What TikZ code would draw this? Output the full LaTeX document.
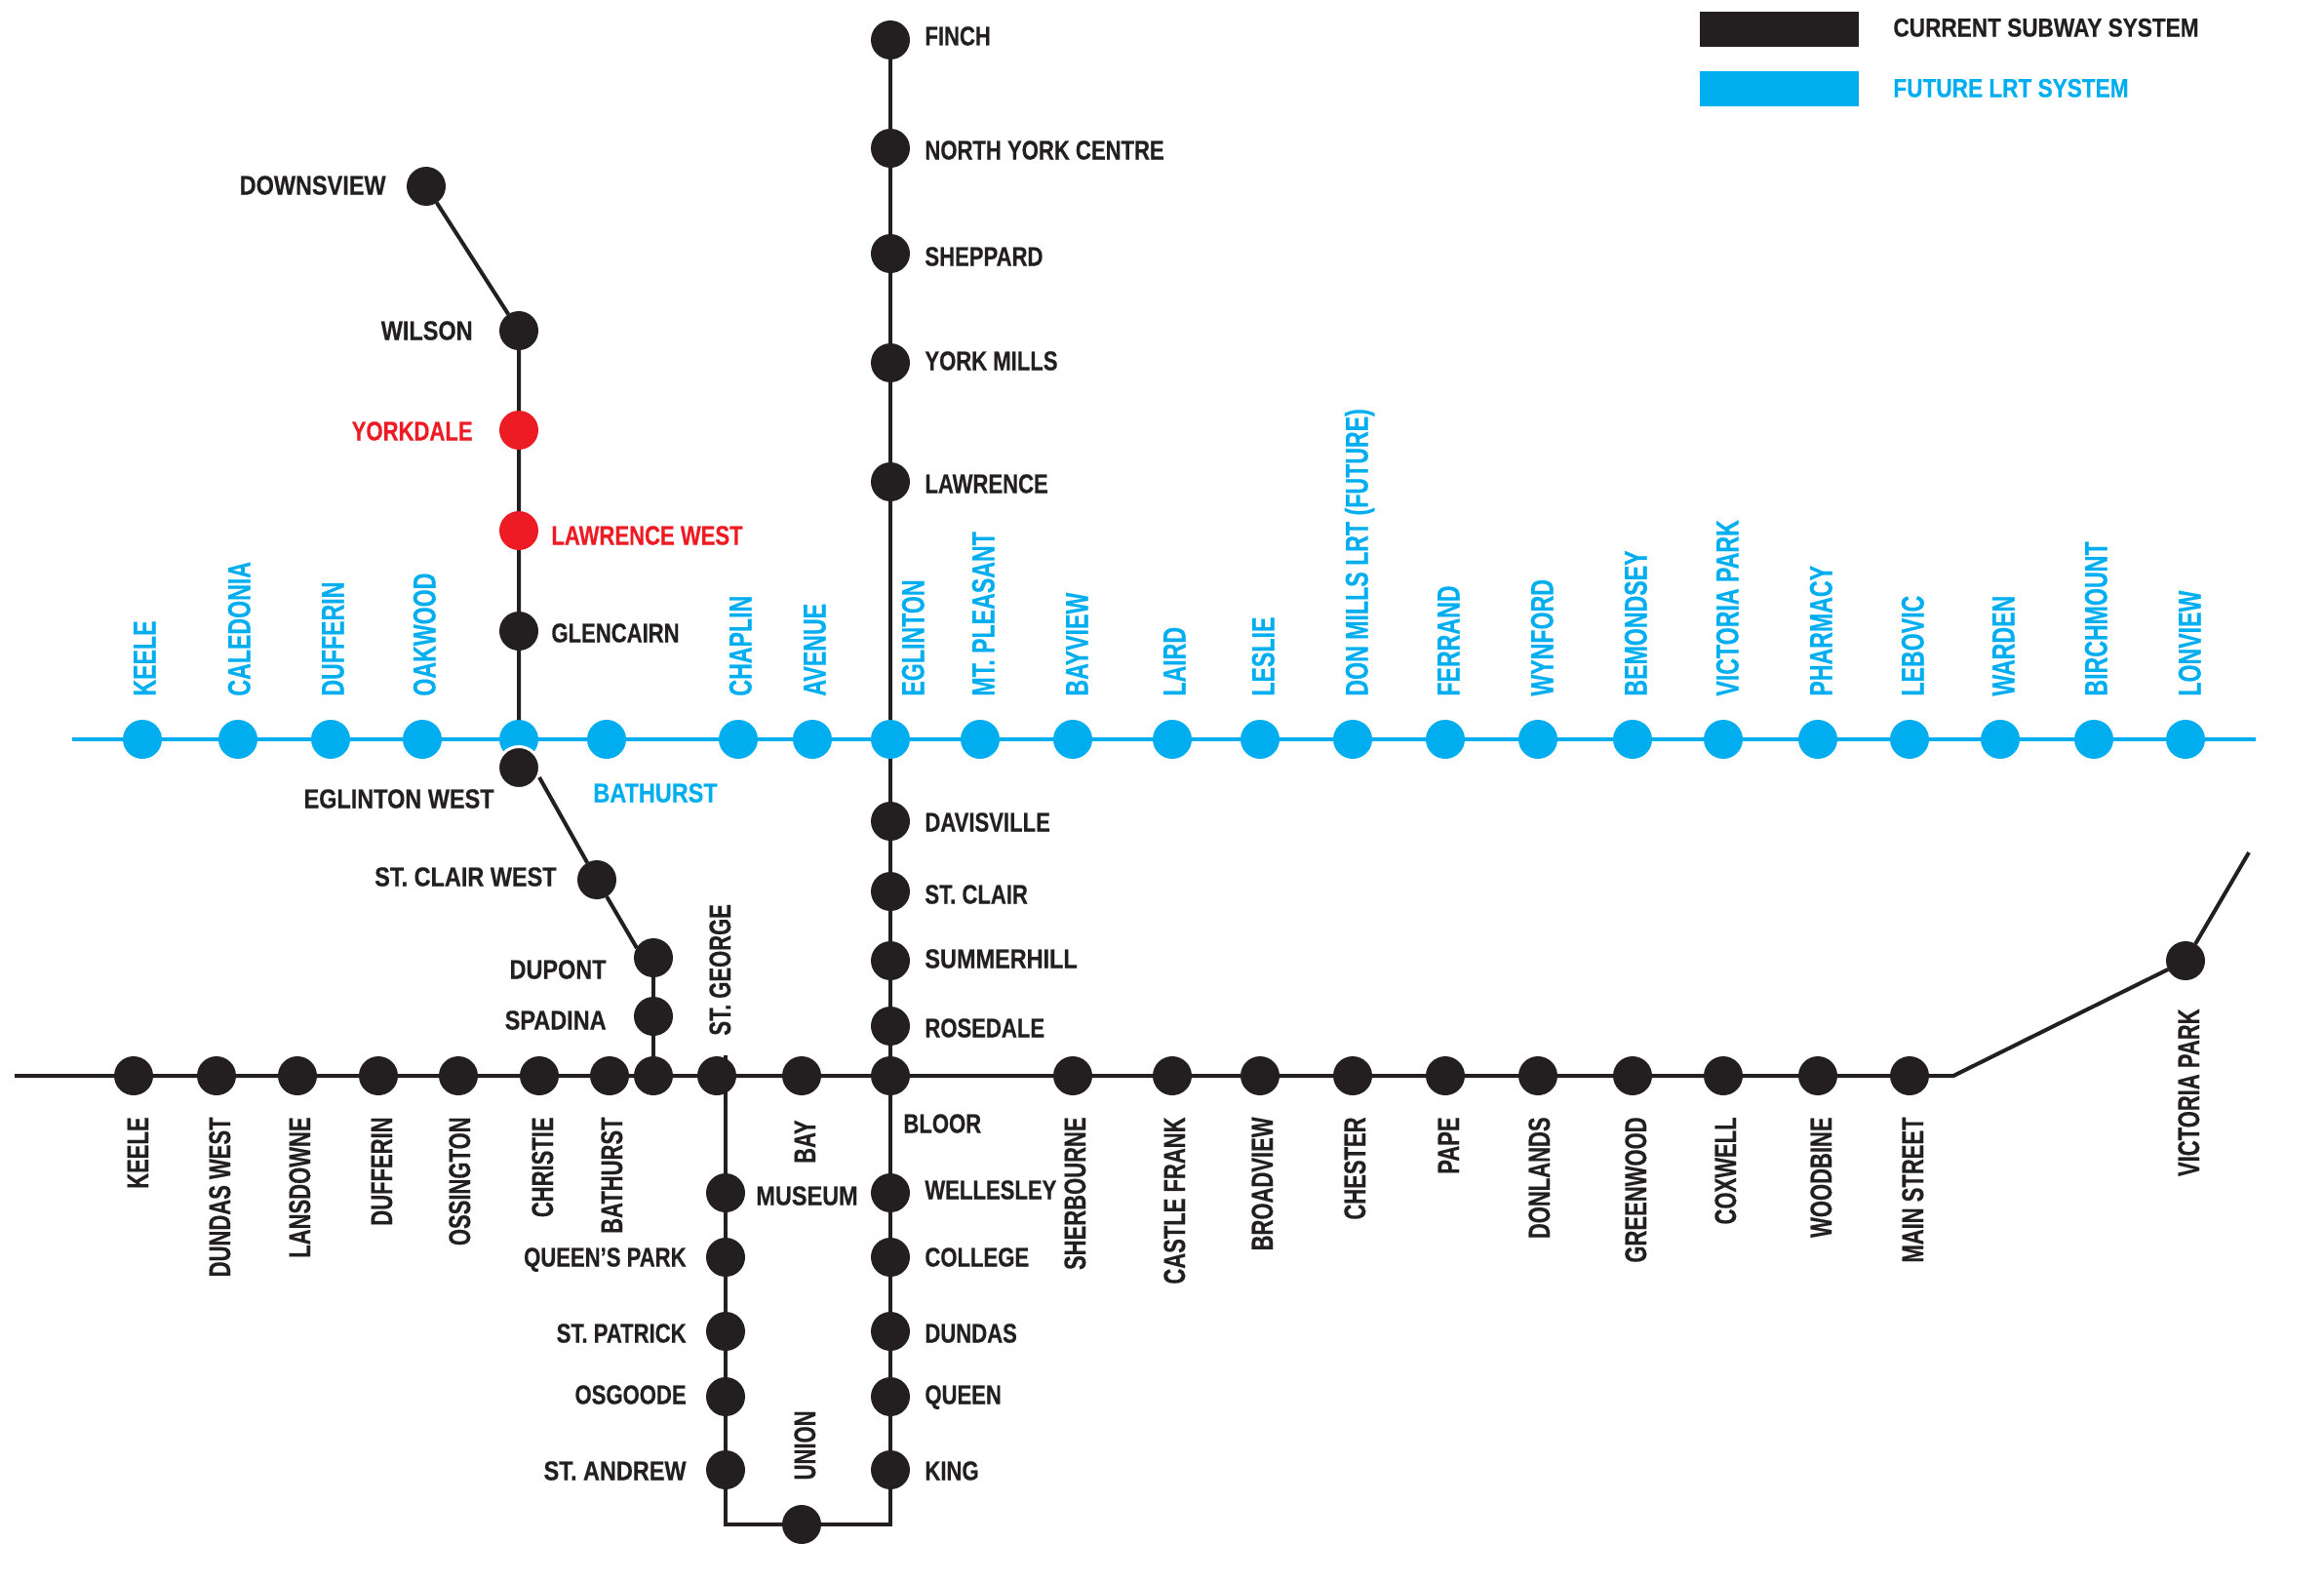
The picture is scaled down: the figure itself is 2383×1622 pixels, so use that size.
\documentclass[tikz,border=0pt]{standalone}
\usepackage{fontspec}
\usepackage{xcolor}
\newfontfamily\horizfont[FakeStretch=0.80,FakeBold=0.4]{Liberation Sans}
\newfontfamily\widefont[FakeStretch=0.85,FakeBold=0.4]{Liberation Sans}
\newfontfamily\vertfont[FakeStretch=0.71,FakeBold=0.4]{Liberation Sans}
\definecolor{subwayblack}{HTML}{231F20}
\definecolor{lrtblue}{HTML}{00AEEF}
\definecolor{stopred}{HTML}{ED1C24}
\tikzset{
    stopdot/.style={circle,fill=#1,minimum size=20pt,inner sep=0pt,outer sep=0pt},
    subwaystop/.style={stopdot=subwayblack},
    lrtstop/.style={stopdot=lrtblue},
    redstop/.style={stopdot=stopred},
    subwayline/.style={draw=subwayblack,line width=2pt},
    lrtline/.style={draw=lrtblue,line width=2pt},
    hlabel/.style={font=\horizfont\bfseries\fontsize{13.8}{14}\selectfont,text=subwayblack,
        inner sep=0pt,text height=9.5pt,text depth=0pt},
    widelabel/.style={hlabel,font=\widefont\bfseries\fontsize{13.8}{14}\selectfont},
    legendlabel/.style={hlabel,font=\widefont\bfseries\fontsize{13.3}{14}\selectfont},
    vlabel/.style={font=\vertfont\bfseries\fontsize{15.5}{16}\selectfont,text=subwayblack,
        inner sep=0pt,text height=11pt,text depth=0pt,rotate=90},
    lrtlabel/.style={vlabel,font=\vertfont\bfseries\fontsize{16.3}{17}\selectfont,text=lrtblue,
        text height=11.5pt,anchor=west},
    swatch/.style={fill=#1,minimum width=81.5pt,minimum height=18pt,inner sep=0pt}
}
\begin{document}
\begin{tikzpicture}[x=0.5pt,y=-0.5pt]
    \useasboundingbox (0,0) rectangle (2383,1622);

    % legend
    \node[swatch=subwayblack] (currentswatch) at (1824.5,30) {};
    \node[swatch=lrtblue] (futureswatch) at (1824.5,91) {};
    \node[legendlabel,anchor=west] (currentlabel) at (1941,28) {CURRENT SUBWAY SYSTEM};
    \node[legendlabel,anchor=west,text=lrtblue] (futurelabel) at (1941,90) {FUTURE LRT SYSTEM};

    % yonge line
    \node[subwaystop] (finch) at (913,41) {};
    \node[subwaystop] (northyork) at (913,152) {};
    \node[subwaystop] (sheppard) at (913,260) {};
    \node[subwaystop] (yorkmills) at (913,372) {};
    \node[subwaystop] (lawrence) at (913,494) {};
    \node[subwaystop] (davisville) at (913,842) {};
    \node[subwaystop] (stclair) at (913,914) {};
    \node[subwaystop] (summerhill) at (913,985) {};
    \node[subwaystop] (rosedale) at (913,1052) {};
    \node[subwaystop] (bloor) at (913,1103) {};
    \node[subwaystop] (wellesley) at (913,1223) {};
    \node[subwaystop] (college) at (913,1289) {};
    \node[subwaystop] (dundas) at (913,1365) {};
    \node[subwaystop] (queen) at (913,1432) {};
    \node[subwaystop] (king) at (913,1507) {};

    % university line
    \node[subwaystop] (museum) at (744,1223) {};
    \node[subwaystop] (queenspark) at (744,1289) {};
    \node[subwaystop] (stpatrick) at (744,1365) {};
    \node[subwaystop] (osgoode) at (744,1432) {};
    \node[subwaystop] (standrew) at (744,1507) {};
    \node[subwaystop] (union) at (822,1563) {};

    % spadina line
    \node[subwaystop] (downsview) at (437,191) {};
    \node[subwaystop] (wilson) at (532,339) {};
    \node[redstop] (yorkdale) at (532,441) {};
    \node[redstop] (lawrencewest) at (532,544) {};
    \node[subwaystop] (glencairn) at (532,647) {};
    \node[subwaystop] (stclairwest) at (612,902) {};
    \node[subwaystop] (dupont) at (670,982) {};
    \node[subwaystop] (spadina) at (670,1042) {};

    % bloor line
    \node[subwaystop] (keele) at (137,1103) {};
    \node[subwaystop] (dundaswest) at (222,1103) {};
    \node[subwaystop] (lansdowne) at (305,1103) {};
    \node[subwaystop] (dufferin) at (388,1103) {};
    \node[subwaystop] (ossington) at (470,1103) {};
    \node[subwaystop] (christie) at (553,1103) {};
    \node[subwaystop] (bathurst) at (625,1103) {};
    \node[subwaystop] (spadinabloor) at (670,1103) {};
    \node[subwaystop] (stgeorge) at (735,1103) {};
    \node[subwaystop] (bay) at (822,1103) {};
    \node[subwaystop] (sherbourne) at (1100,1103) {};
    \node[subwaystop] (castlefrank) at (1202,1103) {};
    \node[subwaystop] (broadview) at (1292,1103) {};
    \node[subwaystop] (chester) at (1387,1103) {};
    \node[subwaystop] (pape) at (1482,1103) {};
    \node[subwaystop] (donlands) at (1577,1103) {};
    \node[subwaystop] (greenwood) at (1674,1103) {};
    \node[subwaystop] (coxwell) at (1767,1103) {};
    \node[subwaystop] (woodbine) at (1864,1103) {};
    \node[subwaystop] (mainstreet) at (1958,1103) {};
    \node[subwaystop] (victoriapark) at (2241,985) {};

    % lrt line
    \node[lrtstop] (lrtkeele) at (146,758) {};
    \node[lrtstop] (lrtcaledonia) at (244,758) {};
    \node[lrtstop] (lrtdufferin) at (339,758) {};
    \node[lrtstop] (lrtoakwood) at (433,758) {};
    \node[lrtstop] (lrteglintonwest) at (532,758) {};
    \node[lrtstop] (lrtbathurst) at (622,758) {};
    \node[lrtstop] (lrtchaplin) at (757,758) {};
    \node[lrtstop] (lrtavenue) at (833,758) {};
    \node[lrtstop] (lrteglinton) at (913,758) {};
    \node[lrtstop] (lrtpleasant) at (1005,758) {};
    \node[lrtstop] (lrtbayview) at (1100,758) {};
    \node[lrtstop] (lrtlaird) at (1202,758) {};
    \node[lrtstop] (lrtleslie) at (1292,758) {};
    \node[lrtstop] (lrtdonmills) at (1387,758) {};
    \node[lrtstop] (lrtferrand) at (1482,758) {};
    \node[lrtstop] (lrtwynford) at (1577,758) {};
    \node[lrtstop] (lrtbemondsey) at (1674,758) {};
    \node[lrtstop] (lrtvictoria) at (1767,758) {};
    \node[lrtstop] (lrtpharmacy) at (1864,758) {};
    \node[lrtstop] (lrtlebovic) at (1958,758) {};
    \node[lrtstop] (lrtwarden) at (2051,758) {};
    \node[lrtstop] (lrtbirchmount) at (2147,758) {};
    \node[lrtstop] (lrtlonview) at (2241,758) {};
    \node[subwaystop,draw=white,line width=1.5pt,minimum size=21.5pt] (eglintonwest) at (532,787) {};

    \coordinate (lrtwest) at (74,758);
    \coordinate (lrteast) at (2313,758);
    \coordinate (bloorwest) at (15,1103);
    \coordinate (bloorbend) at (2003,1103);
    \coordinate (bloorend) at (2306,874);
    \coordinate (stgeorgetop) at (744,1082);
    \coordinate (unionleft) at (744,1563);
    \coordinate (unionright) at (913,1563);
    \coordinate (eglintontail) at (553,797);
    \coordinate (dupontedge) at (653,972);

    % connectors
    \draw[lrtline] (lrtwest) -- (lrtkeele) -- (lrtcaledonia) -- (lrtdufferin) -- (lrtoakwood) -- (lrteglintonwest) -- (lrtbathurst) -- (lrtchaplin) -- (lrtavenue) -- (lrteglinton) -- (lrtpleasant) -- (lrtbayview) -- (lrtlaird) -- (lrtleslie) -- (lrtdonmills) -- (lrtferrand) -- (lrtwynford) -- (lrtbemondsey) -- (lrtvictoria) -- (lrtpharmacy) -- (lrtlebovic) -- (lrtwarden) -- (lrtbirchmount) -- (lrtlonview) -- (lrteast);
    \draw[subwayline] (finch) -- (northyork) -- (sheppard) -- (yorkmills) -- (lawrence) -- (lrteglinton);
    \draw[subwayline] (lrteglinton) -- (davisville) -- (stclair) -- (summerhill) -- (rosedale) -- (bloor) -- (wellesley) -- (college) -- (dundas) -- (queen) -- (king) -- (unionright) -- (union) -- (unionleft) -- (standrew) -- (osgoode) -- (stpatrick) -- (queenspark) -- (museum) -- (stgeorgetop);
    \draw[subwayline] (downsview) -- (wilson) -- (yorkdale) -- (lawrencewest) -- (glencairn) -- (lrteglintonwest);
    \draw[subwayline] (eglintontail) -- (stclairwest) -- (dupontedge);
    \draw[subwayline] (dupont) -- (spadina) -- (spadinabloor);
    \draw[subwayline] (bloorwest) -- (keele) -- (dundaswest) -- (lansdowne) -- (dufferin) -- (ossington) -- (christie) -- (bathurst) -- (spadinabloor) -- (stgeorge) -- (bay) -- (bloor) -- (sherbourne) -- (castlefrank) -- (broadview) -- (chester) -- (pape) -- (donlands) -- (greenwood) -- (coxwell) -- (woodbine) -- (mainstreet) -- (bloorbend) -- (victoriapark) -- (bloorend);

    % labels of the yonge line
    \node[hlabel,anchor=west] (finchname) at (948,37) {FINCH};
    \node[hlabel,anchor=west] (northyorkname) at (948,154) {NORTH YORK CENTRE};
    \node[hlabel,anchor=west] (sheppardname) at (948,263) {SHEPPARD};
    \node[hlabel,anchor=west] (yorkmillsname) at (948,370) {YORK MILLS};
    \node[hlabel,anchor=west] (lawrencename) at (948,496) {LAWRENCE};
    \node[hlabel,anchor=west] (davisvillename) at (948,843) {DAVISVILLE};
    \node[hlabel,anchor=west] (stclairname) at (948,917) {ST. CLAIR};
    \node[widelabel,anchor=west] (summerhillname) at (948,983) {SUMMERHILL};
    \node[hlabel,anchor=west] (rosedalename) at (948,1054) {ROSEDALE};
    \node[hlabel,anchor=west] (bloorname) at (926,1152) {BLOOR};
    \node[hlabel,anchor=west] (wellesleyname) at (948,1220) {WELLESLEY};
    \node[hlabel,anchor=west] (collegename) at (948,1289) {COLLEGE};
    \node[hlabel,anchor=west] (dundasname) at (948,1367) {DUNDAS};
    \node[hlabel,anchor=west] (queenname) at (948,1430) {QUEEN};
    \node[hlabel,anchor=west] (kingname) at (948,1508) {KING};

    % labels of the university line
    \node[widelabel,anchor=west] (museumname) at (775,1226) {MUSEUM};
    \node[hlabel,anchor=east] (queensparkname) at (704,1289) {QUEEN’S PARK};
    \node[hlabel,anchor=east] (stpatrickname) at (704,1367) {ST. PATRICK};
    \node[hlabel,anchor=east] (osgoodename) at (704,1430) {OSGOODE};
    \node[widelabel,anchor=east] (standrewname) at (704,1508) {ST. ANDREW};
    \node[vlabel,anchor=east] (unionname) at (825,1446) {UNION};

    % labels of the spadina line
    \node[widelabel,anchor=east] (downsviewname) at (396,190) {DOWNSVIEW};
    \node[widelabel,anchor=east] (wilsonname) at (485,339) {WILSON};
    \node[hlabel,anchor=east,text=stopred] (yorkdalename) at (485,442) {YORKDALE};
    \node[hlabel,anchor=west,text=stopred] (lawrencewestname) at (565,549) {LAWRENCE WEST};
    \node[hlabel,anchor=west] (glencairnname) at (565,649) {GLENCAIRN};
    \node[widelabel,anchor=east] (eglintonwestname) at (507,819) {EGLINTON WEST};
    \node[widelabel,anchor=west,text=lrtblue] (lrtbathurstname) at (608,813) {BATHURST};
    \node[widelabel,anchor=east] (stclairwestname) at (571,899) {ST. CLAIR WEST};
    \node[widelabel,anchor=east] (dupontname) at (622,994) {DUPONT};
    \node[widelabel,anchor=east] (spadinaname) at (622,1046) {SPADINA};

    % labels of the bloor line
    \node[vlabel,anchor=east] (keelename) at (141,1145) {KEELE};
    \node[vlabel,anchor=east] (dundaswestname) at (225,1145) {DUNDAS WEST};
    \node[vlabel,anchor=east] (lansdownename) at (307,1145) {LANSDOWNE};
    \node[vlabel,anchor=east] (dufferinname) at (391,1145) {DUFFERIN};
    \node[vlabel,anchor=east] (ossingtonname) at (471,1145) {OSSINGTON};
    \node[vlabel,anchor=east] (christiename) at (556,1145) {CHRISTIE};
    \node[vlabel,anchor=east] (bathurstname) at (627,1145) {BATHURST};
    \node[vlabel,anchor=west] (stgeorgename) at (738,1062) {ST. GEORGE};
    \node[vlabel,anchor=east] (bayname) at (825,1148) {BAY};
    \node[vlabel,anchor=east] (sherbournename) at (1102,1145) {SHERBOURNE};
    \node[vlabel,anchor=east] (castlefrankname) at (1204,1145) {CASTLE FRANK};
    \node[vlabel,anchor=east] (broadviewname) at (1294,1145) {BROADVIEW};
    \node[vlabel,anchor=east] (chestername) at (1389,1145) {CHESTER};
    \node[vlabel,anchor=east] (papename) at (1485,1145) {PAPE};
    \node[vlabel,anchor=east] (donlandsname) at (1578,1145) {DONLANDS};
    \node[vlabel,anchor=east] (greenwoodname) at (1677,1145) {GREENWOOD};
    \node[vlabel,anchor=east] (coxwellname) at (1769,1145) {COXWELL};
    \node[vlabel,anchor=east] (woodbinename) at (1867,1145) {WOODBINE};
    \node[vlabel,anchor=east] (mainstreetname) at (1961,1145) {MAIN STREET};
    \node[vlabel,anchor=east] (victoriaparkname) at (2244,1034) {VICTORIA PARK};

    % labels of the lrt line
    \node[lrtlabel] (lrtkeelename) at (148,714) {KEELE};
    \node[lrtlabel] (lrtcaledonianame) at (245,714) {CALEDONIA};
    \node[lrtlabel] (lrtdufferinname) at (341,714) {DUFFERIN};
    \node[lrtlabel] (lrtoakwoodname) at (435,714) {OAKWOOD};
    \node[lrtlabel] (lrtchaplinname) at (759,714) {CHAPLIN};
    \node[lrtlabel] (lrtavenuename) at (835,714) {AVENUE};
    \node[lrtlabel] (lrteglintonname) at (936,714) {EGLINTON};
    \node[lrtlabel] (lrtpleasantname) at (1008,714) {MT. PLEASANT};
    \node[lrtlabel] (lrtbayviewname) at (1104,714) {BAYVIEW};
    \node[lrtlabel] (lrtlairdname) at (1204,714) {LAIRD};
    \node[lrtlabel] (lrtlesliename) at (1295,714) {LESLIE};
    \node[lrtlabel] (lrtdonmillsname) at (1391,714) {DON MILLS LRT (FUTURE)};
    \node[lrtlabel] (lrtferrandname) at (1485,714) {FERRAND};
    \node[lrtlabel] (lrtwynfordname) at (1581,714) {WYNFORD};
    \node[lrtlabel] (lrtbemondseyname) at (1677,714) {BEMONDSEY};
    \node[lrtlabel] (lrtvictorianame) at (1771,714) {VICTORIA PARK};
    \node[lrtlabel] (lrtpharmacyname) at (1867,714) {PHARMACY};
    \node[lrtlabel] (lrtlebovicname) at (1961,714) {LEBOVIC};
    \node[lrtlabel] (lrtwardenname) at (2054,714) {WARDEN};
    \node[lrtlabel] (lrtbirchmountname) at (2149,714) {BIRCHMOUNT};
    \node[lrtlabel] (lrtlonviewname) at (2245,714) {LONVIEW};
\end{tikzpicture}
\end{document}
